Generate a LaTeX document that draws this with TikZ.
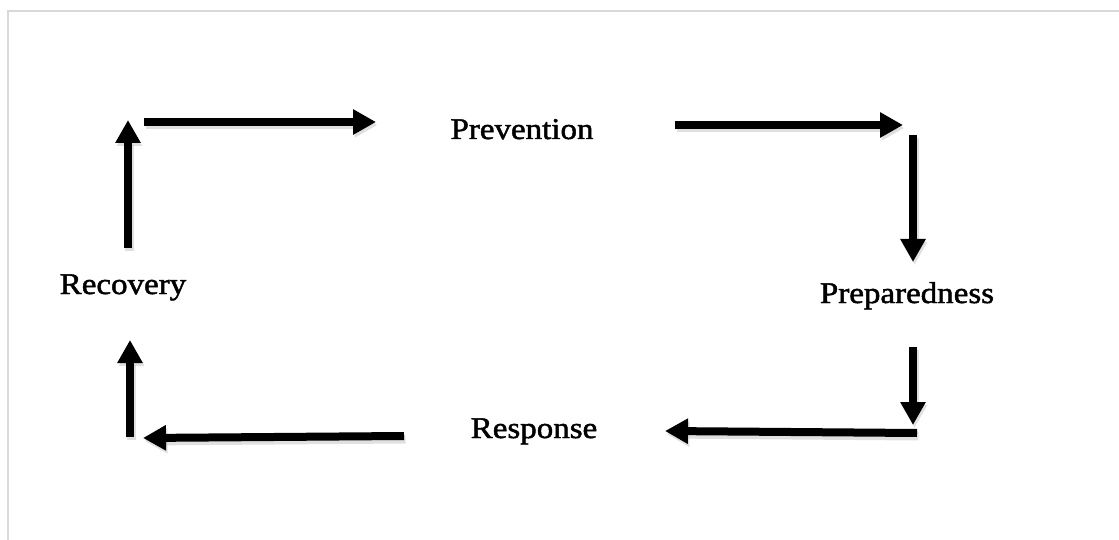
\documentclass[tikz,border=0pt]{standalone}
\usepackage{fontspec}
\setmainfont{Liberation Serif}[FakeStretch=1.1,FakeBold=1.6]
\usetikzlibrary{arrows.meta}
\begin{document}
\begin{tikzpicture}[x=1pt,y=-1pt,
  label/.style={anchor=base,inner sep=0pt,font=\fontsize{30}{36}\selectfont},
  flow/.style={line width=8pt,-{Triangle[width=24pt,length=23pt]},
    preaction={draw=black!35,opacity=0.35,line width=9pt,transform canvas={shift={(1.5pt,-3pt)}}}},
  frame/.style={draw=black!15,line width=2pt}]
\useasboundingbox (0,0) rectangle (1119,540);
\draw[frame] (8,540) -- (8,11) -- (1119,11);
% labels
\node[label] (prev) at (522,139) {Prevention};
\node[label] (prep) at (907,303) {Preparedness};
\node[label] (resp) at (534,438) {Response};
\node[label] (reco) at (123,294) {Recovery};
% arrow end points
\coordinate (a1s) at (144,122); \coordinate (a1e) at (376,122);
\coordinate (a2s) at (675,125); \coordinate (a2e) at (903,125);
\coordinate (a3s) at (913,135); \coordinate (a3e) at (913,262);
\coordinate (a4s) at (913,347); \coordinate (a4e) at (913,425);
\coordinate (a5s) at (917,433); \coordinate (a5e) at (665,431);
\coordinate (a6s) at (404,436); \coordinate (a6e) at (143,438);
\coordinate (a7s) at (130,437); \coordinate (a7e) at (130,340);
\coordinate (a8s) at (128,248); \coordinate (a8e) at (128,120);
\draw[flow] (a1s) -- (a1e);
\draw[flow] (a2s) -- (a2e);
\draw[flow] (a3s) -- (a3e);
\draw[flow] (a4s) -- (a4e);
\draw[flow] (a5s) -- (a5e);
\draw[flow] (a6s) -- (a6e);
\draw[flow] (a7s) -- (a7e);
\draw[flow] (a8s) -- (a8e);
\end{tikzpicture}
\end{document}
